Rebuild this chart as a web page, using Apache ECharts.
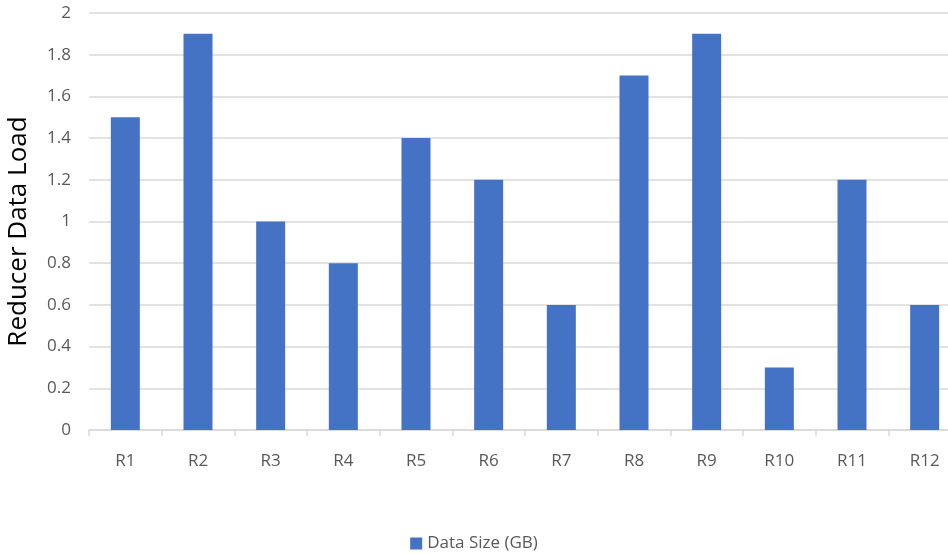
<!DOCTYPE html>
<html><head><meta charset="utf-8">
<script src="https://cdn.jsdelivr.net/npm/echarts@6/dist/echarts.min.js"></script>
<style>html,body{margin:0;padding:0;background:#fff}#c{width:948px;height:554px}</style>
</head><body><div id="c"></div>
<script>
const categories = ['R1','R2','R3','R4','R5','R6','R7','R8','R9','R10','R11','R12'];
const dataSize = [1.5, 1.9, 1.0, 0.8, 1.4, 1.2, 0.6, 1.7, 1.9, 0.3, 1.2, 0.6];
const seriesName = 'Data Size (GB)';
const yTitle = 'Reducer Data Load';
const chart = echarts.init(document.getElementById('c'));
const font = '"Open Sans", sans-serif';
chart.setOption({
  animation: false,
  grid: {left: 89, top: 13, right: -13, bottom: 124, containLabel: false, outerBoundsMode: 'none'},
  legend: {top: 530, left: 'center', itemWidth: 12, itemHeight: 12, icon: 'rect', itemGap: 4,
    textStyle: {fontFamily: font, fontSize: 17, color: '#595959'}, data: [seriesName]},
  xAxis: {type: 'category', data: categories,
    axisLine: {lineStyle: {color: '#d9d9d9', width: 1.5}},
    axisTick: {show: true, length: 6, lineStyle: {color: '#d9d9d9', width: 1.5}},
    axisLabel: {margin: 23, fontFamily: font, fontSize: 17, color: '#595959'}},
  yAxis: {type: 'value', min: 0, max: 2, interval: 0.2,
    name: yTitle, nameLocation: 'middle', nameGap: 57, nameRotate: 90,
    nameTextStyle: {fontFamily: font, fontSize: 26, color: '#000', padding: [0, 20, 0, 0]},
    axisLine: {show: false}, axisTick: {show: false},
    splitLine: {lineStyle: {color: '#d9d9d9', width: 1.5}},
    axisLabel: {margin: 18, fontFamily: font, fontSize: 17, color: '#595959',
      formatter: v => String(Math.round(v*10)/10)}},
  series: [{name: seriesName, type: 'bar', data: dataSize, barWidth: 29,
    itemStyle: {color: '#4472C4'}}]
});
</script></body></html>
